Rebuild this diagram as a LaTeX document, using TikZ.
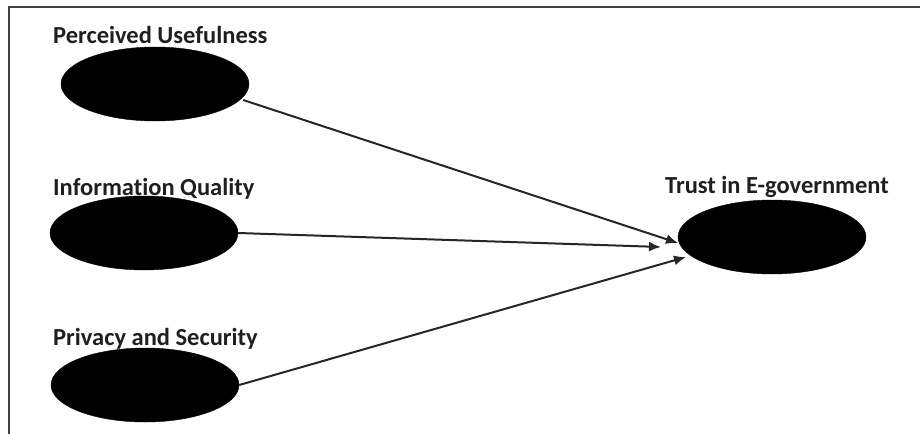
\documentclass[tikz,border=0pt]{standalone}
\usepackage{fontspec}
\setmainfont[Ligatures=NoCommon]{Carlito}
\usetikzlibrary{shapes.geometric,arrows.meta}
\begin{document}
\begin{tikzpicture}[x=1pt,y=-1pt,
  latent/.style={ellipse,fill=black,draw=black,minimum width=188pt,minimum height=74pt,inner sep=0pt},
  lbl/.style={font=\bfseries\fontsize{24.5}{28}\selectfont,text=black!88,inner sep=0pt,anchor=base west},
  path/.style={line width=2pt,draw=black!85,-{Latex[length=12pt,width=10pt]}},
  frame/.style={line width=1.6pt,draw=black!75}]
\useasboundingbox (0,0) rectangle (920,434);
\draw[frame] (9,434) coordinate (fbl) -- (9,7) coordinate (ftl) -- (920,7) coordinate (ftr);
\node[latent] (pu) at (155,84) {};
\node[latent] (iq) at (144,233) {};
\node[latent] (ps) at (145,385) {};
\node[latent] (tr) at (772,237) {};
\node[lbl] (lpu) at (53,43) {Perceived Usefulness};
\node[lbl] (liq) at (53,195) {Information Quality};
\node[lbl] (lps) at (53,345) {Privacy and Security};
\node[lbl] (ltr) at (665,193) {Trust in E-government};
\coordinate (t1) at (678,243);
\coordinate (t2) at (661,247);
\coordinate (t3) at (686,257);
\draw[path] (pu.east) ++(-6,16) -- (t1);
\draw[path] (iq.east) -- (t2);
\draw[path] (ps.east) -- (t3);
\end{tikzpicture}
\end{document}
